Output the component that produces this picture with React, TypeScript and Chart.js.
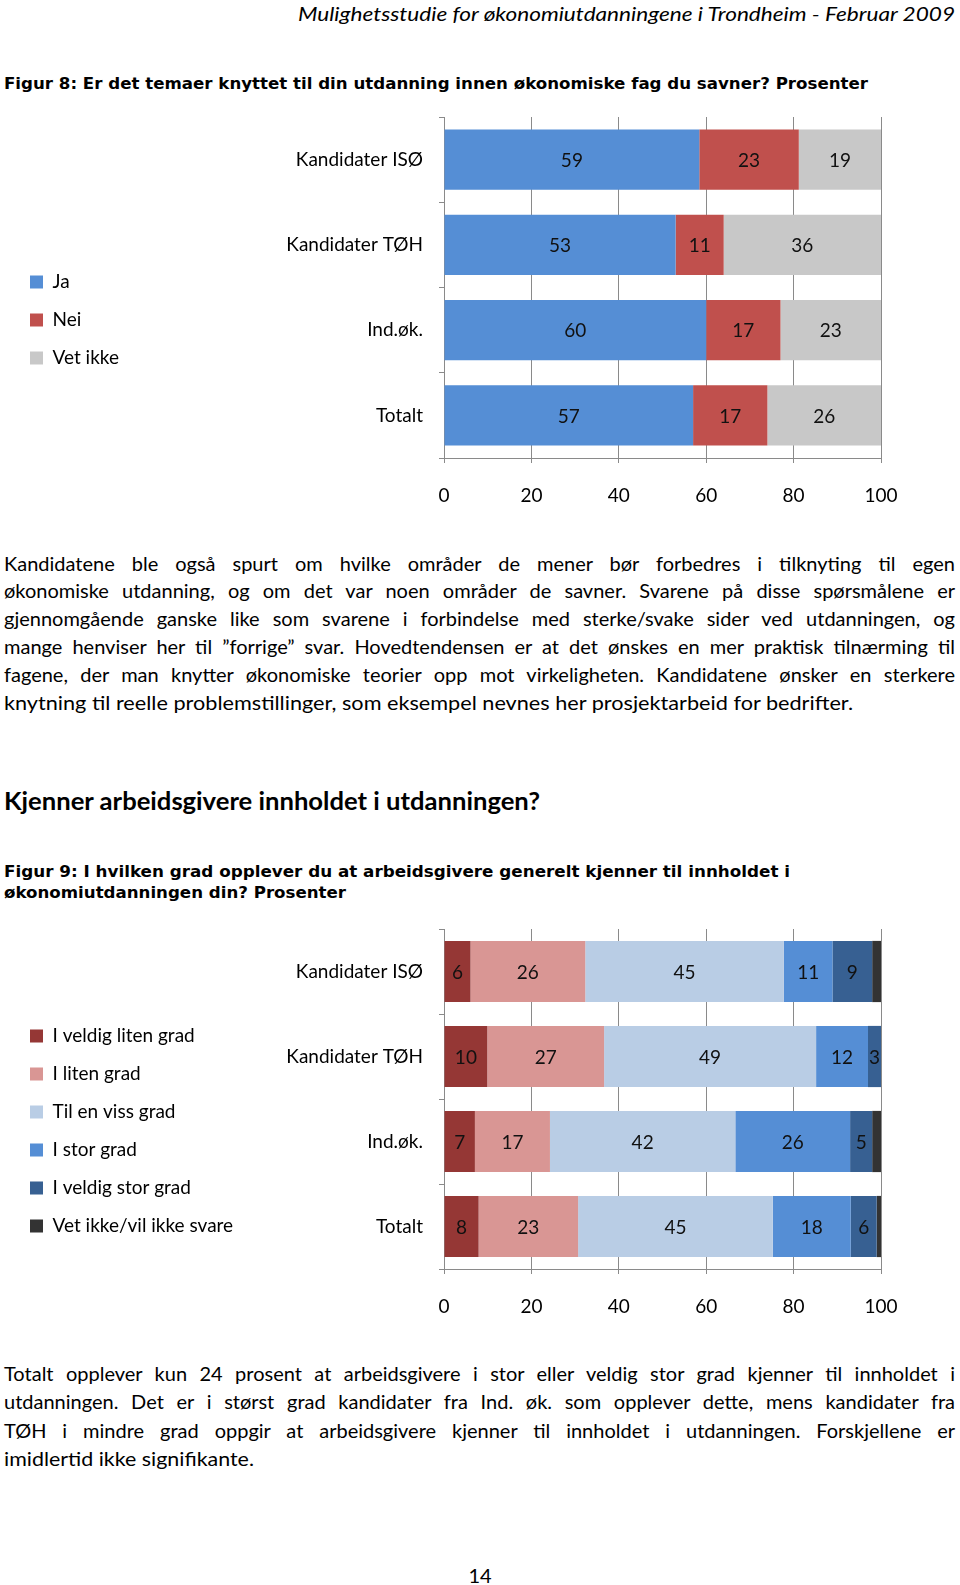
import React, { useEffect, useLayoutEffect, useRef } from 'react';
import { Chart, registerables } from 'chart.js';

Chart.register(...registerables);

// ---------- Figure 8 data ----------
const fig8Categories = ['Kandidater ISØ', 'Kandidater TØH', 'Ind.øk.', 'Totalt'];
const fig8Series = ['Ja', 'Nei', 'Vet ikke'];
const fig8Ja = [59, 53, 60, 57];
const fig8Nei = [23, 11, 17, 17];
const fig8VetIkke = [19, 36, 23, 26];
const fig8Colors = ['#558ED5', '#C0504D', '#C8C8C8'];
const fig8Labelled = [true, true, true];

// ---------- Figure 9 data ----------
const fig9Categories = ['Kandidater ISØ', 'Kandidater TØH', 'Ind.øk.', 'Totalt'];
const fig9Series = [
  'I veldig liten grad',
  'I liten grad',
  'Til en viss grad',
  'I stor grad',
  'I veldig stor grad',
  'Vet ikke/vil ikke svare',
];
const fig9VeldigLiten = [6, 10, 7, 8];
const fig9Liten = [26, 27, 17, 23];
const fig9Viss = [45, 49, 42, 45];
const fig9Stor = [11, 12, 26, 18];
const fig9VeldigStor = [9, 3, 5, 6];
const fig9VetIkke = [2, 0, 2, 1];
const fig9Colors = ['#953735', '#D99694', '#B9CDE5', '#558ED5', '#376092', '#333333'];
const fig9Labelled = [true, true, true, true, true, false];

const xTickValues = [0, 20, 40, 60, 80, 100];

// ---------- Text ----------
const headerText = 'Mulighetsstudie for økonomiutdanningene i Trondheim - Februar 2009';
const fig8Title = 'Figur 8: Er det temaer knyttet til din utdanning innen økonomiske fag du savner? Prosenter';
const para1Lines = [
  'Kandidatene ble også spurt om hvilke områder de mener bør forbedres i tilknyting til egen',
  'økonomiske utdanning, og om det var noen områder de savner. Svarene på disse spørsmålene er',
  'gjennomgående ganske like som svarene i forbindelse med sterke/svake sider ved utdanningen, og',
  'mange henviser her til ”forrige” svar. Hovedtendensen er at det ønskes en mer praktisk tilnærming til',
  'fagene, der man knytter økonomiske teorier opp mot virkeligheten. Kandidatene ønsker en sterkere',
  'knytning til reelle problemstillinger, som eksempel nevnes her prosjektarbeid for bedrifter.',
];
const headingText = 'Kjenner arbeidsgivere innholdet i utdanningen?';
const fig9TitleLines = [
  'Figur 9: I hvilken grad opplever du at arbeidsgivere generelt kjenner til innholdet i',
  'økonomiutdanningen din? Prosenter',
];
const para2Lines = [
  'Totalt opplever kun 24 prosent at arbeidsgivere i stor eller veldig stor grad kjenner til innholdet i',
  'utdanningen. Det er i størst grad kandidater fra Ind. øk. som opplever dette, mens kandidater fra',
  'TØH i mindre grad oppgir at arbeidsgivere kjenner til innholdet i utdanningen. Forskjellene er',
  'imidlertid ikke signifikante.',
];
const pageNumber = '14';

const BODY_FONT = 'Lato, "Open Sans", sans-serif';
const TITLE_FONT = '"DejaVu Sans", Verdana, sans-serif';
const CHART_FONT = 'Lato';
const GRID = '#8A8A8A';
const PLOT_LEFT = 444;
const PAD_LEFT = 11;

// ---------- value labels plugin ----------
const valueLabelsPlugin = {
  id: 'valueLabels',
  afterDatasetsDraw(chart: any) {
    const { ctx } = chart;
    ctx.save();
    ctx.font = `19px ${CHART_FONT}`;
    ctx.fillStyle = '#111111';
    ctx.textAlign = 'center';
    ctx.textBaseline = 'middle';
    chart.data.datasets.forEach((ds: any, di: number) => {
      if (!ds.showValueLabels) return;
      const meta = chart.getDatasetMeta(di);
      meta.data.forEach((el: any, i: number) => {
        const raw = ds.rawValues[i];
        if (!raw) return;
        const p = el.getCenterPoint();
        ctx.fillText(String(raw), p.x, p.y + 1);
      });
    });
    ctx.restore();
  },
};

type Layout = { padTop: number; padBottom: number; xAxisHeight: number; barPct: number };

function buildConfig(
  categories: string[],
  seriesNames: string[],
  seriesValues: number[][],
  colors: string[],
  labelled: boolean[],
  layout: Layout
): any {
  const totals = categories.map((_, i) => seriesValues.reduce((s, arr) => s + arr[i], 0));
  const datasets = seriesNames.map((name, si) => ({
    label: name,
    data: seriesValues[si].map((v, i) => (v / totals[i]) * 100),
    rawValues: seriesValues[si],
    showValueLabels: labelled[si],
    backgroundColor: colors[si],
    borderWidth: 0,
    categoryPercentage: 1,
    barPercentage: layout.barPct,
  }));
  const font = { family: CHART_FONT, size: 19 };
  return {
    type: 'bar',
    data: { labels: categories, datasets },
    options: {
      indexAxis: 'y',
      responsive: false,
      animation: false,
      devicePixelRatio: 1,
      layout: { padding: { left: PAD_LEFT, right: 79, top: layout.padTop, bottom: layout.padBottom } },
      plugins: {
        legend: {
          position: 'left',
          align: 'center',
          maxWidth: 330,
          labels: { boxWidth: 13, boxHeight: 13, padding: 19, color: '#000', font },
        },
        tooltip: { enabled: false },
      },
      scales: {
        x: {
          stacked: true,
          min: 0,
          max: 100,
          afterBuildTicks: (s: any) => {
            s.ticks = xTickValues.map((v) => ({ value: v }));
          },
          ticks: { color: '#000', font, padding: 21 },
          grid: { color: GRID, tickLength: 5, drawTicks: true, lineWidth: 1 },
          border: { color: GRID, width: 1 },
          afterFit: (s: any) => {
            s.height = layout.xAxisHeight;
          },
        },
        y: {
          stacked: true,
          ticks: { color: '#000', font, padding: 16 },
          grid: { drawOnChartArea: false, tickLength: 5, color: GRID, offset: true },
          border: { color: GRID, width: 1 },
          afterFit: (s: any) => {
            const lg = s.chart.legend;
            s.width = PLOT_LEFT - PAD_LEFT - (lg ? lg.width : 0);
            s.paddingTop = 0;
            s.paddingBottom = 0;
          },
        },
      },
    },
    plugins: [valueLabelsPlugin],
  };
}

function BarChart({ top, height, config }: { top: number; height: number; config: () => any }) {
  const ref = useRef<HTMLCanvasElement>(null);
  useEffect(() => {
    if (!ref.current) return;
    const chart = new Chart(ref.current, config());
    return () => chart.destroy();
  }, []);
  return (
    <canvas
      ref={ref}
      width={960}
      height={height}
      style={{ position: 'absolute', left: 0, top, width: 960, height }}
    />
  );
}

type FitProps = {
  text: string;
  left: number;
  cy: number;
  width: number;
  size: number;
  family?: string;
  weight?: number;
  italic?: boolean;
  justify?: boolean;
};

function FitLine({ text, left, cy, width, size, family = BODY_FONT, weight = 400, italic = false, justify = false }: FitProps) {
  const ref = useRef<HTMLSpanElement>(null);
  useLayoutEffect(() => {
    const el = ref.current;
    if (!el) return;
    const fit = () => {
      el.style.wordSpacing = '0px';
      el.style.transform = 'none';
      const natural = el.getBoundingClientRect().width;
      if (!natural) return;
      const spaces = (text.match(/ /g) || []).length;
      if (justify && spaces > 0 && natural <= width) {
        el.style.wordSpacing = `${(width - natural) / spaces}px`;
      } else {
        el.style.transform = `scaleX(${width / natural})`;
      }
    };
    fit();
    if ((document as any).fonts && (document as any).fonts.ready) (document as any).fonts.ready.then(fit);
  }, [text, width, justify]);
  const lh = Math.round(size * 1.2);
  return (
    <span
      ref={ref}
      style={{
        position: 'absolute',
        left,
        top: cy - lh / 2,
        lineHeight: `${lh}px`,
        fontSize: size,
        fontFamily: family,
        fontWeight: weight,
        fontStyle: italic ? 'italic' : 'normal',
        whiteSpace: 'pre',
        display: 'inline-block',
        transformOrigin: '0 50%',
        color: '#000',
      }}
    >
      {text}
    </span>
  );
}

const para1Cy = [562.5, 590.3, 618.1, 645.9, 673.7, 701.5];
const para1Width = [951, 951, 951, 951, 951, 849];
const para2Cy = [1373, 1401, 1429.5, 1458];
const para2Width = [951, 951, 951, 250];

export default function App() {
  return (
    <div
      style={{
        position: 'absolute',
        left: 0,
        top: 0,
        width: 960,
        height: 1585,
        background: '#fff',
        overflow: 'hidden',
      }}
    >
      <FitLine text={headerText} left={298} cy={13} width={657} size={20} italic />
      <FitLine text={fig8Title} left={4} cy={84} width={864} size={15} family={TITLE_FONT} weight={700} />

      <BarChart
        top={100}
        height={440}
        config={() =>
          buildConfig(
            fig8Categories,
            fig8Series,
            [fig8Ja, fig8Nei, fig8VetIkke],
            fig8Colors,
            fig8Labelled,
            { padTop: 17, padBottom: 17, xAxisHeight: 65, barPct: 0.705 }
          )
        }
      />

      {para1Lines.map((t, i) => (
        <FitLine key={'p1' + i} text={t} left={4} cy={para1Cy[i]} width={para1Width[i]} size={20} justify={i < para1Lines.length - 1} />
      ))}

      <FitLine text={headingText} left={4} cy={800} width={536} size={25} weight={700} />

      {fig9TitleLines.map((t, i) => (
        <FitLine key={'f9' + i} text={t} left={4} cy={872 + i * 20.5} width={i === 0 ? 786 : 342} size={15} family={TITLE_FONT} weight={700} />
      ))}

      <BarChart
        top={915}
        height={432}
        config={() =>
          buildConfig(
            fig9Categories,
            fig9Series,
            [fig9VeldigLiten, fig9Liten, fig9Viss, fig9Stor, fig9VeldigStor, fig9VetIkke],
            fig9Colors,
            fig9Labelled,
            { padTop: 14, padBottom: 14, xAxisHeight: 64, barPct: 0.72 }
          )
        }
      />

      {para2Lines.map((t, i) => (
        <FitLine key={'p2' + i} text={t} left={4} cy={para2Cy[i]} width={para2Width[i]} size={20} justify={i < para2Lines.length - 1} />
      ))}

      <span
        style={{
          position: 'absolute',
          left: 430,
          width: 100,
          textAlign: 'center',
          top: 1575 - 12,
          lineHeight: '24px',
          fontSize: 20,
          fontFamily: BODY_FONT,
          color: '#000',
        }}
      >
        {pageNumber}
      </span>
    </div>
  );
}
